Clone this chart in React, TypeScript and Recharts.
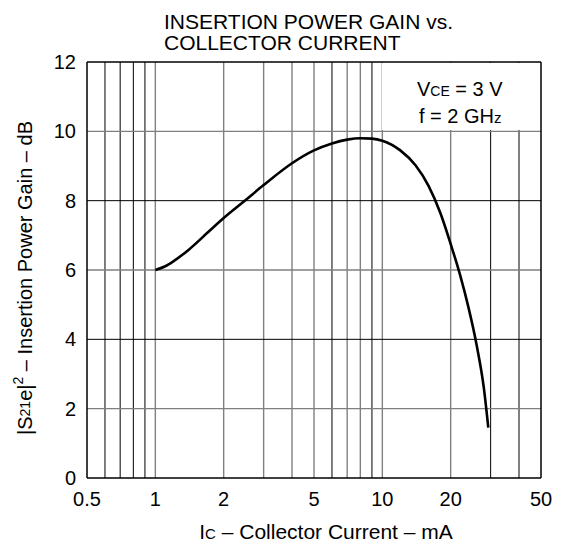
import { LineChart, Line, XAxis, YAxis, ReferenceLine } from "recharts";

// collector current (mA) and insertion power gain (dB)
const current = [1, 1.1, 1.2, 1.4, 1.7, 2, 2.5, 3, 4, 5, 6, 7, 8, 9, 10, 12, 14, 16, 18, 20, 22, 24, 26, 28, 29.3];
const gain = [6.0, 6.1, 6.25, 6.58, 7.08, 7.5, 8.02, 8.45, 9.08, 9.45, 9.65, 9.76, 9.8, 9.79, 9.73, 9.45, 9.02, 8.42, 7.65, 6.75, 5.86, 4.9, 3.85, 2.6, 1.45];

const xTicks = [0.5, 1, 2, 5, 10, 20, 50];
const yTicks = [0, 2, 4, 6, 8, 10, 12];
const xGrey = [1, 2, 3, 4, 5, 7, 8, 10, 20];
const xBlack = [0.6, 0.7, 0.8, 0.9, 6, 9, 30, 40];
const yGrey = [2, 6, 10];
const yBlack = [4, 8];

const data = current.map((c, i) => ({ ic: c, gain: gain[i] }));

const font = "'Liberation Sans', Arial, sans-serif";

const YLabel = ({ viewBox }: any) => {
  const cy = viewBox.y + viewBox.height / 2 + 8;
  return (
    <text
      x={25}
      y={cy}
      transform={`rotate(-90, 25, ${cy})`}
      textAnchor="middle"
      dominantBaseline="central"
      fontSize={20}
      fontFamily={font}
      fill="#000"
    >
      |S<tspan fontSize={14}>21</tspan>e|<tspan fontSize={14} dy={-7}>2</tspan>
      <tspan dy={7}> – Insertion Power Gain – dB</tspan>
    </text>
  );
};

const XLabel = () => (
  <text x={326} y={539} textAnchor="middle" fontSize={21} fontFamily={font} fill="#000">
    I<tspan fontSize={15}>C</tspan> – Collector Current – mA
  </text>
);

export default function App() {
  return (
    <div style={{ position: "absolute", left: 0, top: 0, width: 568, height: 546, background: "#fff" }}>
      <LineChart
        width={568}
        height={546}
        data={data}
        margin={{ top: 62, right: 27, bottom: 0, left: 0 }}
      >
        <XAxis
          dataKey="ic"
          type="number"
          scale="log"
          domain={[0.5, 50]}
          ticks={xTicks}
          allowDataOverflow
          height={68}
          tickLine={false}
          axisLine={{ stroke: "#000", strokeWidth: 1.5 }}
          tick={{ fill: "#000", fontSize: 20, fontFamily: font }}
          tickMargin={8}
          label={<XLabel />}
        />
        <YAxis
          type="number"
          domain={[0, 12]}
          ticks={yTicks}
          width={87}
          tickLine={false}
          axisLine={{ stroke: "#000", strokeWidth: 1.5 }}
          tick={{ fill: "#000", fontSize: 20, fontFamily: font }}
          tickMargin={5}
          label={<YLabel />}
        />
        {xGrey.map((v) => (
          <ReferenceLine key={"xg" + v} x={v} stroke="#808080" strokeWidth={1.4} />
        ))}
        {xBlack.map((v) => (
          <ReferenceLine key={"xb" + v} x={v} stroke="#000" strokeWidth={1} />
        ))}
        {yGrey.map((v) => (
          <ReferenceLine key={"yg" + v} y={v} stroke="#808080" strokeWidth={1.4} />
        ))}
        {yBlack.map((v) => (
          <ReferenceLine key={"yb" + v} y={v} stroke="#000" strokeWidth={1} />
        ))}
        <ReferenceLine x={50} stroke="#000" strokeWidth={1.5} />
        <ReferenceLine y={12} stroke="#000" strokeWidth={1.5} />
        <Line
          type="monotone"
          dataKey="gain"
          stroke="#000"
          strokeWidth={2.6}
          dot={false}
          isAnimationActive={false}
        />
      </LineChart>
      <svg
        width={568}
        height={546}
        style={{ position: "absolute", left: 0, top: 0, pointerEvents: "none" }}
        fontFamily={font}
      >
        <text x={164} y={29} fontSize={21} fill="#000">INSERTION POWER GAIN vs.</text>
        <text x={164} y={50} fontSize={21} fill="#000">COLLECTOR CURRENT</text>
        <rect x={382} y={63} width={158} height={67} fill="#fff" />
        <text x={417} y={96} fontSize={20} fill="#000">
          V<tspan fontSize={14}>CE</tspan> = 3 V
        </text>
        <text x={419} y={123} fontSize={20} fill="#000">
          f = 2 GH<tspan fontSize={15}>z</tspan>
        </text>
      </svg>
    </div>
  );
}
